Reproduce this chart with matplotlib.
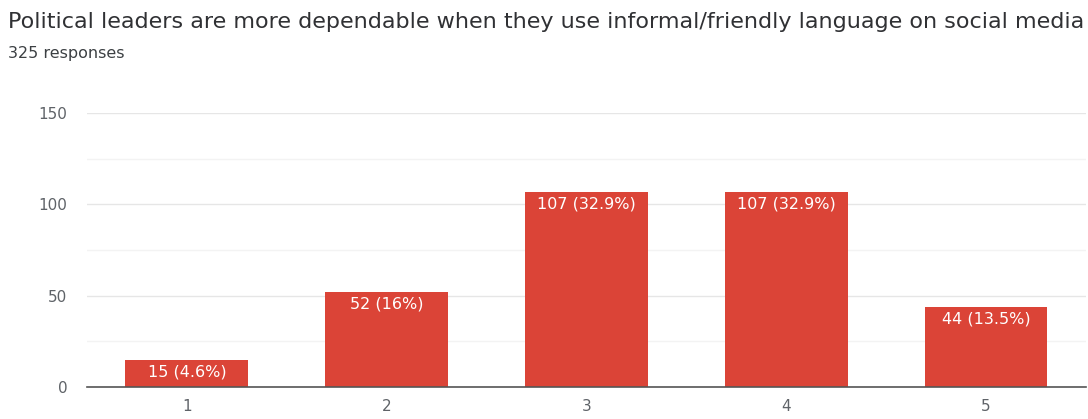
import matplotlib
matplotlib.use('Agg')
import matplotlib.pyplot as plt

plt.rcParams['font.family'] = ['DejaVu Sans']

categories = ['1', '2', '3', '4', '5']
counts = [15, 52, 107, 107, 44]
labels = ['15 (4.6%)', '52 (16%)', '107 (32.9%)', '107 (32.9%)', '44 (13.5%)']
title = 'Political leaders are more dependable when they use informal/friendly language on social media'
subtitle = '325 responses'

fig = plt.figure(figsize=(10.88, 4.19), dpi=100)
ax = fig.add_axes([0.080, 0.0764, 0.918, 0.654])

x = range(len(categories))
bars = ax.bar(x, counts, width=0.615, color='#db4437', zorder=3)

# value labels sit just inside the top of each bar
for rect, lab in zip(bars, labels):
    ax.text(rect.get_x() + rect.get_width() / 2, rect.get_height() - 2.5, lab,
            ha='center', va='top', color='white', fontsize=11.5, zorder=4)

ax.set_xlim(-0.5, 4.5)
ax.set_ylim(0, 150)
ax.set_yticks([0, 50, 100, 150])
ax.set_yticks([25, 75, 125], minor=True)
ax.set_xticks(list(x))
ax.set_xticklabels(categories)
ax.grid(axis='y', which='major', color='#e6e6e6', linewidth=1, zorder=0)
ax.grid(axis='y', which='minor', color='#f3f3f3', linewidth=1, zorder=0)
ax.tick_params(axis='both', which='both', length=0, colors='#5f6368', labelsize=11)
ax.tick_params(axis='y', pad=14)
ax.tick_params(axis='x', pad=9)
for s in ['top', 'right', 'left']:
    ax.spines[s].set_visible(False)
ax.spines['bottom'].set_color('#555555')
ax.spines['bottom'].set_linewidth(1.2)
ax.spines['bottom'].set_zorder(5)

fig.text(0.007, 0.933, title, fontsize=16, color='#303134', va='baseline')
fig.text(0.007, 0.862, subtitle, fontsize=11.5, color='#3c4043', va='baseline')

fig.savefig('out.png', dpi=100, facecolor='white')
